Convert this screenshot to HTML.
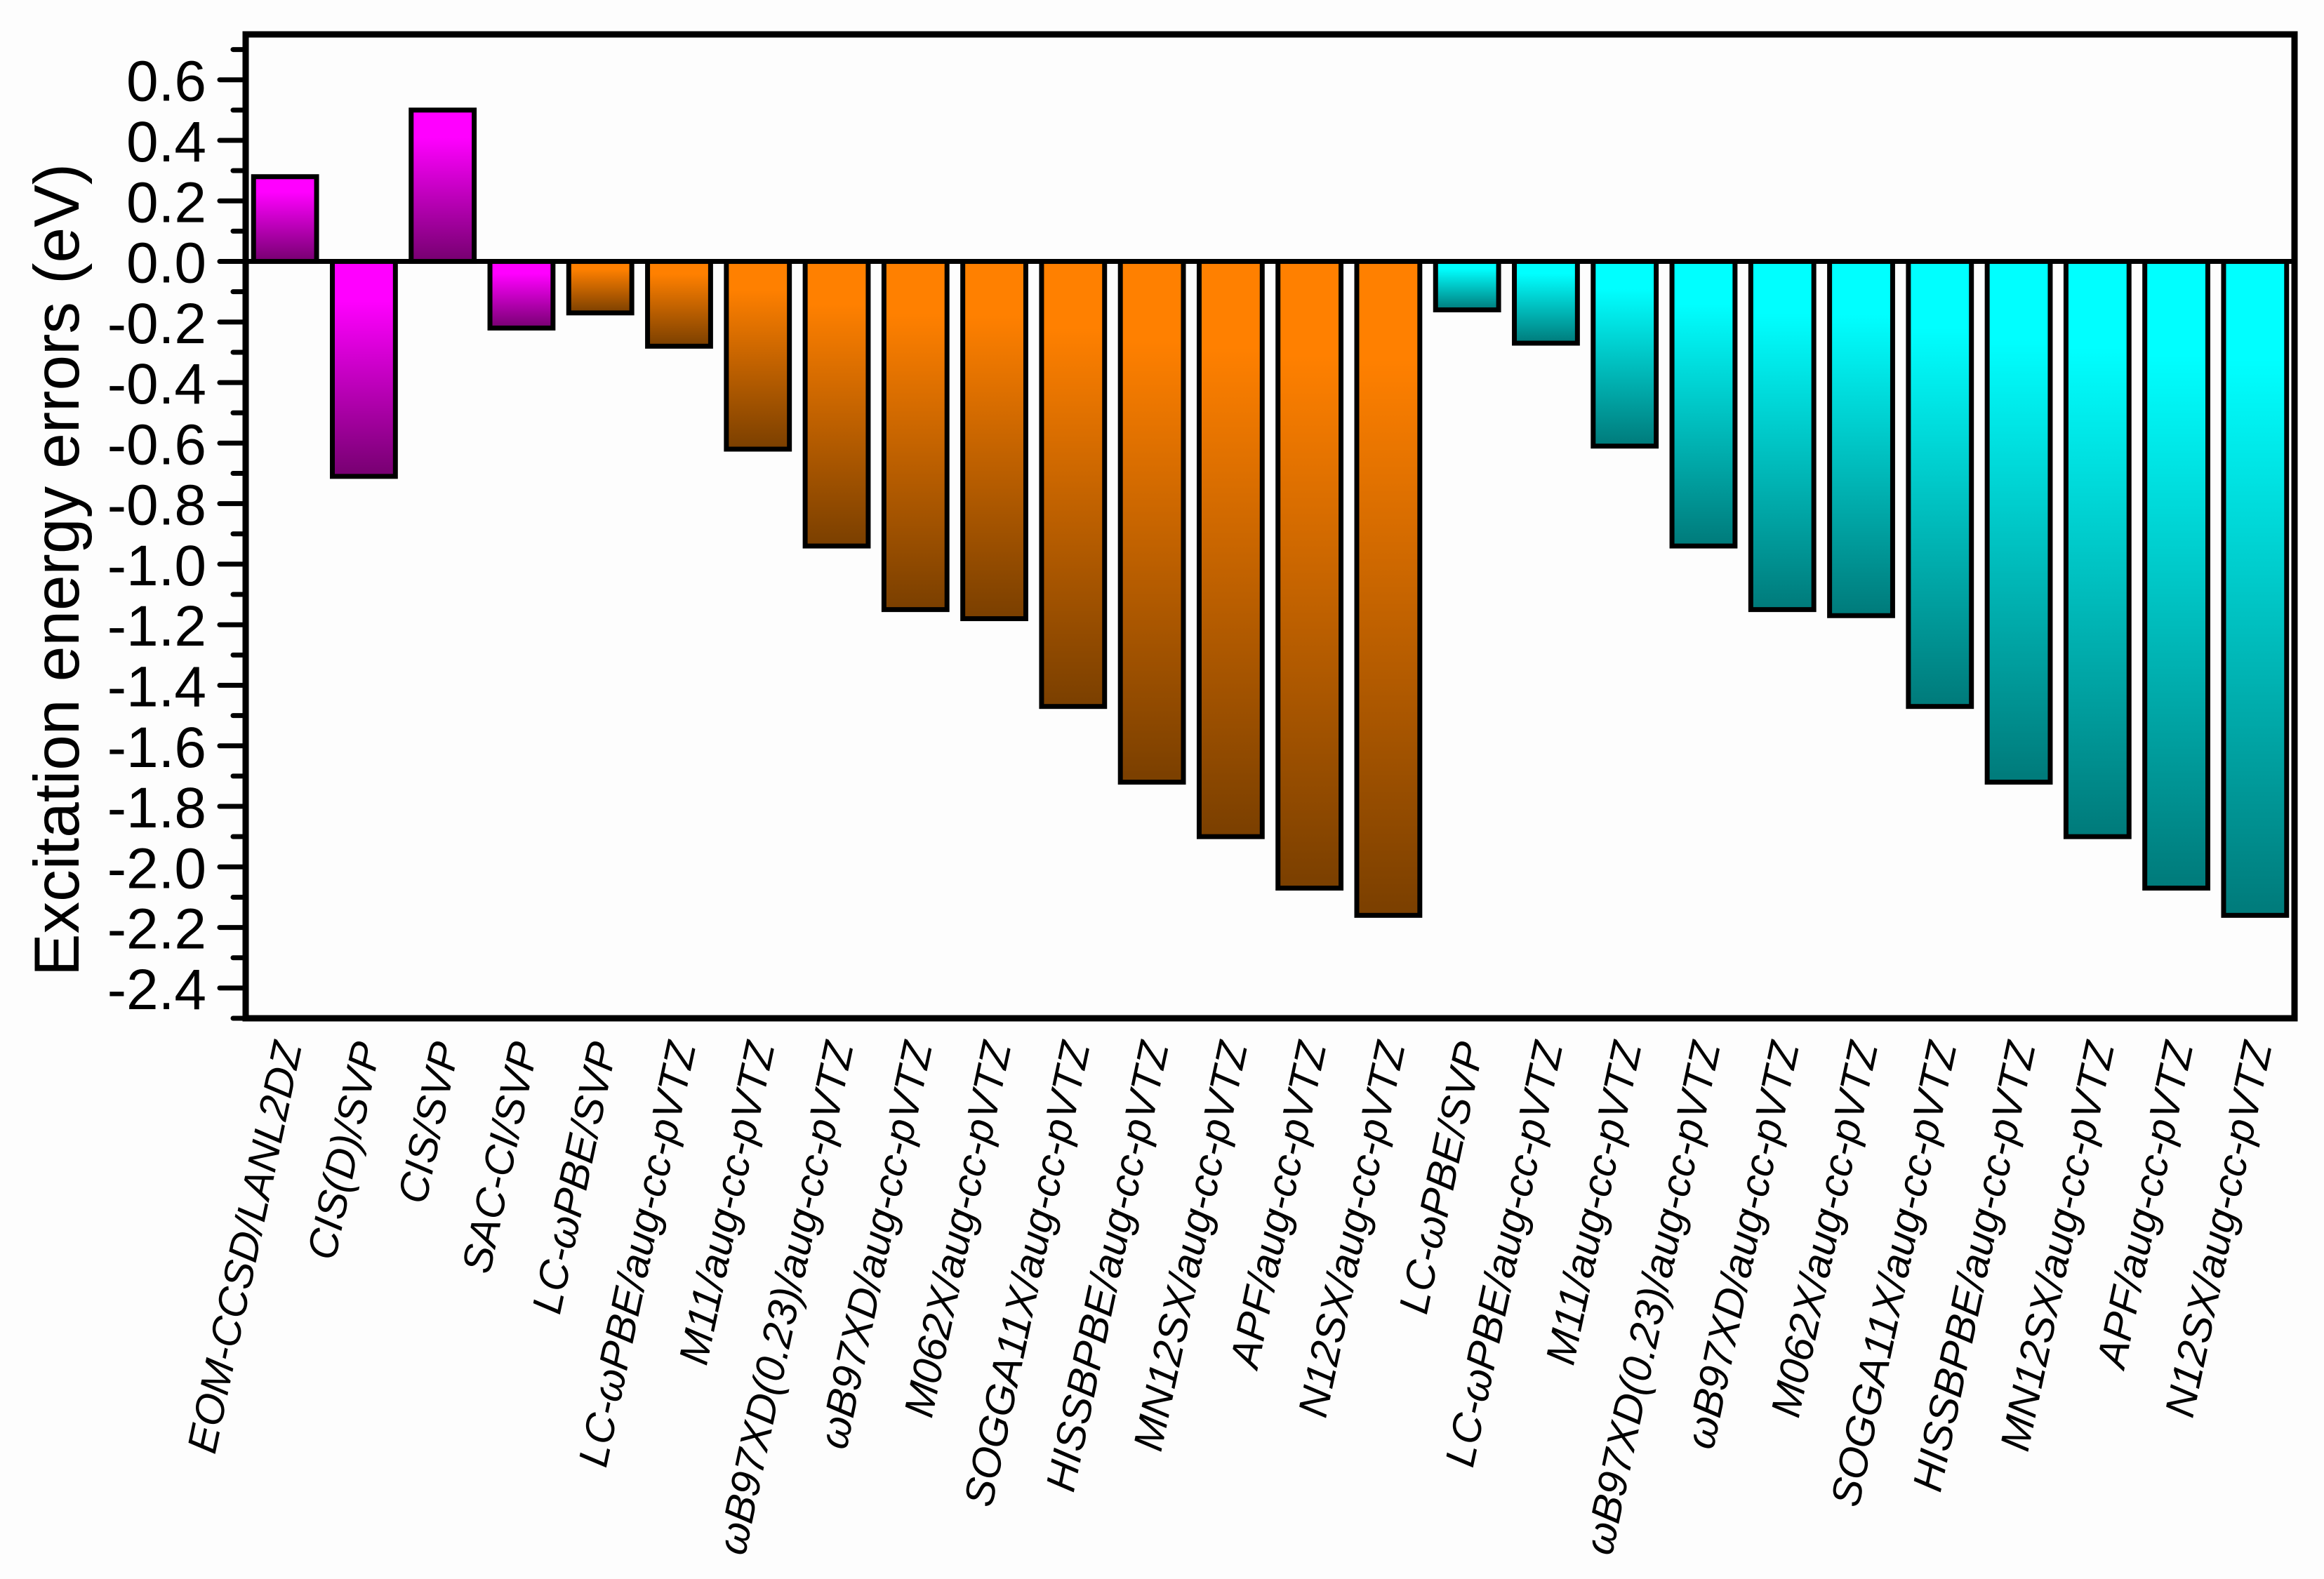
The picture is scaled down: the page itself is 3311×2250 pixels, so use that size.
<!DOCTYPE html>
<html>
<head>
<meta charset="utf-8">
<style>
html,body{margin:0;padding:0;background:#fdfdfd;}
svg{display:block;}
text{font-family:"Liberation Sans",Arial,sans-serif;fill:#000;}
</style>
</head>
<body>
<svg id="chart" width="3311" height="2250" viewBox="0 0 3311 2250" xmlns="http://www.w3.org/2000/svg">
<defs>
<linearGradient id="gMag" x1="0" y1="0" x2="0" y2="1">
<stop offset="0.18" stop-color="#ff00ff"/><stop offset="1" stop-color="#760070"/>
</linearGradient>
<linearGradient id="gOra" x1="0" y1="0" x2="0" y2="1">
<stop offset="0.15" stop-color="#ff8000"/><stop offset="1" stop-color="#7a3f00"/>
</linearGradient>
<linearGradient id="gCya" x1="0" y1="0" x2="0" y2="1">
<stop offset="0.15" stop-color="#00ffff"/><stop offset="1" stop-color="#007a7a"/>
</linearGradient>
</defs>
<rect x="0" y="0" width="3311" height="2250" fill="#fdfdfd"/>
<g id="bars"></g>
<g id="axes"></g>
<g id="labels"></g>
</svg>
<script>
const categories = ["EOM-CCSD/LANL2DZ","CIS(D)/SVP","CIS/SVP","SAC-CI/SVP",
"LC-ωPBE/SVP","LC-ωPBE/aug-cc-pVTZ","M11/aug-cc-pVTZ","ωB97XD(0.23)/aug-cc-pVTZ","ωB97XD/aug-cc-pVTZ","M062X/aug-cc-pVTZ","SOGGA11X/aug-cc-pVTZ","HISSBPBE/aug-cc-pVTZ","MN12SX/aug-cc-pVTZ","APF/aug-cc-pVTZ","N12SX/aug-cc-pVTZ",
"LC-ωPBE/SVP","LC-ωPBE/aug-cc-pVTZ","M11/aug-cc-pVTZ","ωB97XD(0.23)/aug-cc-pVTZ","ωB97XD/aug-cc-pVTZ","M062X/aug-cc-pVTZ","SOGGA11X/aug-cc-pVTZ","HISSBPBE/aug-cc-pVTZ","MN12SX/aug-cc-pVTZ","APF/aug-cc-pVTZ","N12SX/aug-cc-pVTZ"];
const wavefunctionValues = [0.28,-0.71,0.50,-0.22];
const dftSetAValues = [-0.17,-0.28,-0.62,-0.94,-1.15,-1.18,-1.47,-1.72,-1.90,-2.07,-2.16];
const dftSetBValues = [-0.16,-0.27,-0.61,-0.94,-1.15,-1.17,-1.47,-1.72,-1.90,-2.07,-2.16];
const yTickValues = [0.6,0.4,0.2,0.0,-0.2,-0.4,-0.6,-0.8,-1.0,-1.2,-1.4,-1.6,-1.8,-2.0,-2.2,-2.4];
const yTickLabels = ["0.6","0.4","0.2","0.0","-0.2","-0.4","-0.6","-0.8","-1.0","-1.2","-1.4","-1.6","-1.8","-2.0","-2.2","-2.4"];
const yMin = -2.5, yMax = 0.75;

const NS = "http://www.w3.org/2000/svg";
const L = 350, R = 3269, T = 49, B = 1451;
const y = v => B - (v - yMin) / (yMax - yMin) * (B - T);
const pitch = (R - L) / categories.length;
const xC = i => L + pitch * (i + 0.5);
const barW = pitch * 0.8;

function mk(tag, attrs, parent){
  const e = document.createElementNS(NS, tag);
  for (const k in attrs) e.setAttribute(k, attrs[k]);
  parent.appendChild(e);
  return e;
}
const gBars = document.getElementById('bars');
const gAxes = document.getElementById('axes');
const gLab = document.getElementById('labels');

const series = [];
wavefunctionValues.forEach(v => series.push({v, f:'url(#gMag)', s:'wavefunction'}));
dftSetAValues.forEach(v => series.push({v, f:'url(#gOra)', s:'dft-set-a'}));
dftSetBValues.forEach(v => series.push({v, f:'url(#gCya)', s:'dft-set-b'}));

series.forEach((d, i) => {
  const y0 = y(0), y1 = y(d.v);
  const r = mk('rect', {x: xC(i) - barW/2, y: Math.min(y0, y1), width: barW, height: Math.abs(y1 - y0),
    fill: d.f, stroke: '#000', 'stroke-width': 7}, gBars);
  
  
});

const zl = mk('line', {x1: L - 37, x2: R, y1: y(0), y2: y(0), stroke: '#000', 'stroke-width': 7}, gAxes);



const fr = mk('rect', {x: L, y: T, width: R - L, height: B - T, fill: 'none', stroke: '#000', 'stroke-width': 9}, gAxes);



for (let k = -25; k <= 7; k++) {
  const v = k / 10;
  const major = (k % 2 === 0) && k >= -24 && k <= 6;
  if (major) continue;
  const t = mk('line', {x1: L - 18, x2: L, y1: y(v), y2: y(v), stroke: '#000', 'stroke-width': 7, 'stroke-linecap': 'round'}, gAxes);
  
  
}
yTickValues.forEach((v, i) => {
  const t = mk('line', {x1: L - 37, x2: L, y1: y(v), y2: y(v), stroke: '#000', 'stroke-width': 7, 'stroke-linecap': 'round'}, gAxes);
  
  
  const tx = mk('text', {x: 294, y: y(v) + 30, 'text-anchor': 'end', 'font-size': 82}, gAxes);
  tx.textContent = yTickLabels[i];
  
  
});

const yt = mk('text', {x: 0, y: 0, 'text-anchor': 'middle', 'font-size': 91,
  transform: 'translate(112,812) rotate(-90)'}, gAxes);
yt.textContent = 'Excitation energy errors (eV)';



categories.forEach((c, i) => {
  const tx = mk('text', {x: 0, y: 0, 'text-anchor': 'end', 'font-size': 59, 'font-style': 'italic',
    transform: 'translate(' + (xC(i) + 24) + ',1490) rotate(-78)'}, gLab);
  tx.textContent = c;
  
  
});
</script>
</body>
</html>
